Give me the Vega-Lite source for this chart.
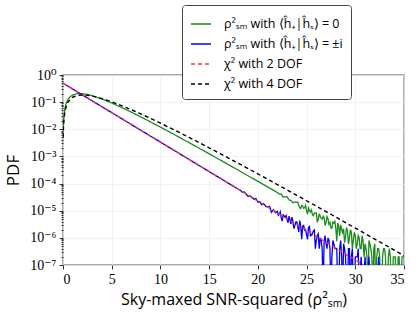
{
  "$schema": "https://vega.github.io/schema/vega-lite/v6.json",
  "width": 341,
  "height": 190,
  "autosize": "none",
  "padding": {"left": 63, "top": 75, "right": 12, "bottom": 54},
  "background": "white",
  "data": {"values": [
    {"s":"g","x":0.03,"y":0.00982},{"s":"g","x":0.05,"y":0.01618},{"s":"g","x":0.1,"y":0.03138},{"s":"g","x":0.2,"y":0.05914},{"s":"g","x":0.3,"y":0.08357},{"s":"g","x":0.5,"y":0.12364},{"s":"g","x":0.75,"y":0.1599},{"s":"g","x":1,"y":0.18394},{"s":"g","x":1.5,"y":0.20574},{"s":"g","x":2,"y":0.20504},{"s":"g","x":2.5,"y":0.19198},{"s":"g","x":3,"y":0.17286},{"s":"g","x":4,"y":0.13058},{"s":"g","x":5,"y":0.09305},{"s":"g","x":6,"y":0.06401},{"s":"g","x":7,"y":0.04302},{"s":"g","x":8,"y":0.02844},{"s":"g","x":9,"y":0.018576},{"s":"g","x":10,"y":0.012021},{"s":"g","x":11,"y":0.0077235},{"s":"g","x":12,"y":0.004933},{"s":"g","x":13,"y":0.0031346},{"s":"g","x":14,"y":0.0019851},{"s":"g","x":15,"y":0.0012527},{"s":"g","x":16,"y":0.00078827},{"s":"g","x":17,"y":0.0004948},{"s":"g","x":18,"y":0.00030989},{"s":"g","x":19,"y":0.0001937},{"s":"g","x":20,"y":0.00012087},{"s":"g","x":21,"y":7.5311e-5},{"s":"g","x":22,"y":4.6861e-5},
    {"s":"g","x":22.2,"y":4.114e-5},{"s":"g","x":22.4,"y":4.122e-5},{"s":"g","x":22.6,"y":3.174e-5},{"s":"g","x":22.8,"y":3.248e-5},{"s":"g","x":23,"y":3.276e-5},{"s":"g","x":23.2,"y":2.485e-5},{"s":"g","x":23.4,"y":2.405e-5},{"s":"g","x":23.6,"y":1.954e-5},{"s":"g","x":23.8,"y":2.106e-5},{"s":"g","x":24,"y":2.035e-5},{"s":"g","x":24.2,"y":1.57e-5},{"s":"g","x":24.4,"y":1.215e-5},{"s":"g","x":24.6,"y":1.488e-5},{"s":"g","x":24.8,"y":1.28e-5},{"s":"g","x":25,"y":9.85e-6},{"s":"g","x":25.2,"y":1.261e-5},{"s":"g","x":25.4,"y":8.99e-6},{"s":"g","x":25.6,"y":7.12e-6},{"s":"g","x":25.8,"y":8.27e-6},{"s":"g","x":26,"y":8.24e-6},{"s":"g","x":26.2,"y":4.74e-6},{"s":"g","x":26.4,"y":6.17e-6},{"s":"g","x":26.6,"y":4.905e-6},{"s":"g","x":26.8,"y":5.61e-6},{"s":"g","x":27,"y":3.556e-6},{"s":"g","x":27.2,"y":5.06e-6},{"s":"g","x":27.4,"y":3.635e-6},{"s":"g","x":27.6,"y":2.262e-6},{"s":"g","x":27.8,"y":3.469e-6},{"s":"g","x":28,"y":2.222e-6},{"s":"g","x":28.2,"y":3.53e-6},{"s":"g","x":28.4,"y":1.201e-6},{"s":"g","x":28.6,"y":2.122e-6},{"s":"g","x":28.8,"y":2.175e-6},{"s":"g","x":29,"y":1.127e-6},{"s":"g","x":29.2,"y":1.8e-6},{"s":"g","x":29.4,"y":1.0e-6},{"s":"g","x":29.6,"y":1.6e-6},{"s":"g","x":29.8,"y":8e-7},{"s":"g","x":30,"y":1.2e-6},{"s":"g","x":30.2,"y":6e-7},{"s":"g","x":30.4,"y":1.0e-6},{"s":"g","x":30.6,"y":4e-7},{"s":"g","x":30.8,"y":8e-7},{"s":"g","x":31,"y":6e-7},{"s":"g","x":31.2,"y":2e-7},{"s":"g","x":31.4,"y":8e-7},{"s":"g","x":31.6,"y":4e-7},{"s":"g","x":31.8,"y":1e-8},{"s":"g","x":32,"y":6e-7},{"s":"g","x":32.2,"y":2e-7},{"s":"g","x":32.4,"y":4e-7},{"s":"g","x":32.6,"y":1e-8},{"s":"g","x":32.8,"y":2e-7},{"s":"g","x":33,"y":4e-7},{"s":"g","x":33.2,"y":1e-8},{"s":"g","x":33.4,"y":2e-7},{"s":"g","x":33.6,"y":2e-7},{"s":"g","x":33.8,"y":1e-8},{"s":"g","x":34,"y":2e-7},{"s":"g","x":34.2,"y":1e-8},{"s":"g","x":34.4,"y":2e-7},{"s":"g","x":34.6,"y":1e-8},{"s":"g","x":34.8,"y":2e-7},{"s":"g","x":35,"y":2e-7},
    {"s":"g","x":24.1,"y":2.078e-5},{"s":"g","x":24.3,"y":1.284e-5},{"s":"g","x":24.5,"y":1.56e-5},{"s":"g","x":24.7,"y":1.227e-5},{"s":"g","x":24.9,"y":1.578e-5},{"s":"g","x":25.1,"y":7.44e-6},{"s":"g","x":25.3,"y":1.01e-5},{"s":"g","x":25.5,"y":1.068e-5},{"s":"g","x":25.7,"y":6.61e-6},{"s":"g","x":25.9,"y":8.13e-6},{"s":"g","x":26.1,"y":3.76e-6},{"s":"g","x":26.3,"y":7.82e-6},{"s":"g","x":26.5,"y":5.33e-6},{"s":"g","x":26.7,"y":6.18e-6},{"s":"g","x":26.9,"y":2.87e-6},{"s":"g","x":27.1,"y":6.07e-6},{"s":"g","x":27.3,"y":3.15e-6},{"s":"g","x":27.5,"y":2.3e-6},{"s":"g","x":27.7,"y":3.79e-6},{"s":"g","x":27.9,"y":4.07e-6},{"s":"g","x":28.1,"y":7.5e-7},{"s":"g","x":28.3,"y":2.57e-6},{"s":"g","x":28.5,"y":3.01e-6},{"s":"g","x":28.7,"y":1.42e-6},{"s":"g","x":28.9,"y":6.6e-7},
    {"s":"g","x":29.1,"y":2.4e-6},{"s":"g","x":29.3,"y":6e-7},{"s":"g","x":29.5,"y":2.0e-6},{"s":"g","x":29.7,"y":4e-7},{"s":"g","x":29.9,"y":1.6e-6},{"s":"g","x":30.1,"y":4e-7},{"s":"g","x":30.3,"y":1.2e-6},{"s":"g","x":30.5,"y":4e-7},{"s":"g","x":30.7,"y":1.2e-6},{"s":"g","x":30.9,"y":2e-7},
    {"s":"g","x":31.1,"y":4e-7},{"s":"g","x":31.3,"y":1e-8},{"s":"g","x":31.5,"y":6e-7},{"s":"g","x":31.7,"y":2e-7},{"s":"g","x":31.9,"y":4e-7},{"s":"g","x":32.1,"y":1e-8},{"s":"g","x":32.3,"y":4e-7},{"s":"g","x":32.5,"y":2e-7},{"s":"g","x":32.7,"y":1e-8},{"s":"g","x":32.9,"y":4e-7},{"s":"g","x":33.1,"y":2e-7},{"s":"g","x":33.3,"y":1e-8},{"s":"g","x":33.5,"y":4e-7},{"s":"g","x":33.7,"y":1e-8},{"s":"g","x":33.9,"y":2e-7},{"s":"g","x":34.1,"y":2e-7},{"s":"g","x":34.3,"y":1e-8},{"s":"g","x":34.5,"y":2e-7},{"s":"g","x":34.7,"y":1e-8},{"s":"g","x":34.9,"y":2e-7},
    {"s":"b","x":0,"y":0.5},{"s":"b","x":1,"y":0.30327},{"s":"b","x":2,"y":0.18394},{"s":"b","x":3,"y":0.11157},{"s":"b","x":4,"y":0.067668},{"s":"b","x":5,"y":0.041042},{"s":"b","x":6,"y":0.024894},{"s":"b","x":7,"y":0.015099},{"s":"b","x":8,"y":0.0091578},{"s":"b","x":9,"y":0.0055545},{"s":"b","x":10,"y":0.003369},{"s":"b","x":11,"y":0.0020434},{"s":"b","x":12,"y":0.0012394},{"s":"b","x":13,"y":0.00075172},{"s":"b","x":14,"y":0.00045594},{"s":"b","x":15,"y":0.00027654},{"s":"b","x":16,"y":0.00016773},{"s":"b","x":17,"y":0.00010173},{"s":"b","x":18,"y":6.1706e-5},
    {"s":"b","x":18.2,"y":5.684e-5},{"s":"b","x":18.4,"y":4.8e-5},{"s":"b","x":18.6,"y":4.905e-5},{"s":"b","x":18.8,"y":4.078e-5},{"s":"b","x":19,"y":3.361e-5},{"s":"b","x":19.2,"y":3.542e-5},{"s":"b","x":19.4,"y":3.089e-5},{"s":"b","x":19.6,"y":2.656e-5},{"s":"b","x":19.8,"y":2.865e-5},{"s":"b","x":20,"y":2.077e-5},{"s":"b","x":20.2,"y":2.136e-5},{"s":"b","x":20.4,"y":1.647e-5},{"s":"b","x":20.6,"y":1.828e-5},{"s":"b","x":20.8,"y":1.47e-5},{"s":"b","x":21,"y":1.3768e-5},{"s":"b","x":21.2,"y":1.451e-5},{"s":"b","x":21.4,"y":8.72e-6},{"s":"b","x":21.6,"y":1.091e-5},{"s":"b","x":21.8,"y":8.42e-6},{"s":"b","x":22,"y":9.52e-6},{"s":"b","x":22.2,"y":7.435e-6},{"s":"b","x":22.4,"y":5.43e-6},{"s":"b","x":22.6,"y":6.966e-6},{"s":"b","x":22.8,"y":5.81e-6},{"s":"b","x":23,"y":4.66e-6},{"s":"b","x":23.2,"y":6.31e-6},{"s":"b","x":23.4,"y":3.235e-6},{"s":"b","x":23.6,"y":4.01e-6},{"s":"b","x":23.8,"y":2.818e-6},{"s":"b","x":24,"y":3.855e-6},{"s":"b","x":24.2,"y":1.662e-6},{"s":"b","x":24.4,"y":2.799e-6},{"s":"b","x":24.6,"y":2.681e-6},{"s":"b","x":24.8,"y":1.931e-6},{"s":"b","x":25,"y":1.313e-6},{"s":"b","x":25.2,"y":2.382e-6},{"s":"b","x":25.4,"y":1.194e-6},{"s":"b","x":25.6,"y":1.433e-6},{"s":"b","x":25.8,"y":1.948e-6},{"s":"b","x":26,"y":8e-7},{"s":"b","x":26.2,"y":1.4e-6},{"s":"b","x":26.4,"y":1.0e-6},{"s":"b","x":26.6,"y":4e-7},{"s":"b","x":26.8,"y":8e-7},{"s":"b","x":27,"y":6e-7},{"s":"b","x":27.2,"y":1.0e-6},{"s":"b","x":27.4,"y":4e-7},{"s":"b","x":27.6,"y":2e-7},{"s":"b","x":27.8,"y":6e-7},{"s":"b","x":28,"y":4e-7},{"s":"b","x":28.2,"y":1e-8},{"s":"b","x":28.4,"y":4e-7},{"s":"b","x":28.6,"y":2e-7},{"s":"b","x":28.8,"y":6e-7},{"s":"b","x":29,"y":2e-7},{"s":"b","x":29.2,"y":1e-8},{"s":"b","x":29.4,"y":4e-7},{"s":"b","x":29.6,"y":2e-7},{"s":"b","x":29.8,"y":1e-8},{"s":"b","x":30,"y":2e-7},{"s":"b","x":30.2,"y":2e-7},{"s":"b","x":30.4,"y":1e-8},{"s":"b","x":30.6,"y":2e-7},{"s":"b","x":30.8,"y":1e-8},{"s":"b","x":31,"y":2e-7},{"s":"b","x":31.2,"y":1e-8},{"s":"b","x":31.4,"y":2e-7},{"s":"b","x":31.6,"y":1e-8},{"s":"b","x":32.2,"y":1e-8},{"s":"b","x":32.4,"y":2e-7},{"s":"b","x":32.6,"y":1e-8},{"s":"b","x":35,"y":1e-8},
    {"s":"b","x":22.1,"y":6.72e-6},{"s":"b","x":22.3,"y":9.17e-6},{"s":"b","x":22.5,"y":4.16e-6},{"s":"b","x":22.7,"y":6.47e-6},{"s":"b","x":22.9,"y":6.71e-6},{"s":"b","x":23.1,"y":3.6e-6},{"s":"b","x":23.3,"y":4.61e-6},{"s":"b","x":23.5,"y":5.78e-6},{"s":"b","x":23.7,"y":2.2e-6},{"s":"b","x":23.9,"y":3.89e-6},{"s":"b","x":24.1,"y":2.5e-6},{"s":"b","x":24.3,"y":4.31e-6},{"s":"b","x":24.5,"y":9.0e-7},{"s":"b","x":24.7,"y":2.88e-6},{"s":"b","x":24.9,"y":2.04e-6},{"s":"b","x":25.1,"y":8.8e-7},{"s":"b","x":25.3,"y":2.6e-6},{"s":"b","x":25.5,"y":1.23e-6},{"s":"b","x":25.7,"y":1.8e-6},{"s":"b","x":25.9,"y":4e-7},{"s":"b","x":26.1,"y":1.2e-6},{"s":"b","x":26.3,"y":4e-7},{"s":"b","x":26.5,"y":8e-7},{"s":"b","x":26.7,"y":1e-8},{"s":"b","x":26.9,"y":1.2e-6},{"s":"b","x":27.1,"y":4e-7},{"s":"b","x":27.3,"y":8e-7},{"s":"b","x":27.5,"y":1e-8},{"s":"b","x":27.7,"y":8e-7},{"s":"b","x":27.9,"y":4e-7},{"s":"b","x":28.1,"y":4e-7},{"s":"b","x":28.3,"y":1e-8},{"s":"b","x":28.5,"y":8e-7},{"s":"b","x":28.7,"y":1e-8},{"s":"b","x":28.9,"y":4e-7},{"s":"b","x":29.1,"y":1e-8},{"s":"b","x":29.3,"y":4e-7},{"s":"b","x":29.5,"y":1e-8},{"s":"b","x":29.7,"y":4e-7},{"s":"b","x":29.9,"y":1e-8},{"s":"b","x":30.3,"y":4e-7},
    {"s":"r","x":0,"y":0.5},{"s":"r","x":1,"y":0.30327},{"s":"r","x":2,"y":0.18394},{"s":"r","x":3,"y":0.11157},{"s":"r","x":4,"y":0.067668},{"s":"r","x":5,"y":0.041042},{"s":"r","x":6,"y":0.024894},{"s":"r","x":7,"y":0.015099},{"s":"r","x":8,"y":0.0091578},{"s":"r","x":9,"y":0.0055545},{"s":"r","x":10,"y":0.003369},{"s":"r","x":11,"y":0.0020434},{"s":"r","x":12,"y":0.0012394},{"s":"r","x":13,"y":0.00075172},{"s":"r","x":14,"y":0.00045594},{"s":"r","x":15,"y":0.00027654},{"s":"r","x":16,"y":0.00016773},{"s":"r","x":17,"y":0.00010173},{"s":"r","x":18,"y":6.1706e-5},{"s":"r","x":19,"y":3.7426e-5},{"s":"r","x":20,"y":2.27e-5},{"s":"r","x":21,"y":1.3768e-5},{"s":"r","x":22,"y":8.3509e-6},{"s":"r","x":23,"y":5.065e-6},{"s":"r","x":24,"y":3.0721e-6},{"s":"r","x":25,"y":1.8633e-6},{"s":"r","x":26,"y":1.1302e-6},{"s":"r","x":27,"y":6.8549e-7},{"s":"r","x":28,"y":4.1576e-7},{"s":"r","x":29,"y":2.5218e-7},{"s":"r","x":30,"y":1.5295e-7},{"s":"r","x":31,"y":9.2768e-8},
    {"s":"k","x":0.02,"y":0.00495},{"s":"k","x":0.05,"y":0.01219},{"s":"k","x":0.1,"y":0.02378},{"s":"k","x":0.2,"y":0.04524},{"s":"k","x":0.3,"y":0.06455},{"s":"k","x":0.5,"y":0.09735},{"s":"k","x":0.75,"y":0.12887},{"s":"k","x":1,"y":0.15163},{"s":"k","x":1.5,"y":0.17714},{"s":"k","x":2,"y":0.18394},{"s":"k","x":2.5,"y":0.17906},{"s":"k","x":3,"y":0.16735},{"s":"k","x":4,"y":0.13534},{"s":"k","x":5,"y":0.10261},{"s":"k","x":6,"y":0.07468},{"s":"k","x":7,"y":0.05285},{"s":"k","x":8,"y":0.03663},{"s":"k","x":9,"y":0.025},{"s":"k","x":10,"y":0.016845},{"s":"k","x":11,"y":0.011239},{"s":"k","x":12,"y":0.0074363},{"s":"k","x":13,"y":0.0048862},{"s":"k","x":14,"y":0.0031916},{"s":"k","x":15,"y":0.0020741},{"s":"k","x":16,"y":0.0013418},{"s":"k","x":17,"y":0.00086474},{"s":"k","x":18,"y":0.00055535},{"s":"k","x":19,"y":0.00035555},{"s":"k","x":20,"y":0.000227},{"s":"k","x":21,"y":0.00014456},{"s":"k","x":22,"y":9.1858e-5},{"s":"k","x":23,"y":5.8249e-5},{"s":"k","x":24,"y":3.6865e-5},{"s":"k","x":25,"y":2.3292e-5},{"s":"k","x":26,"y":1.4692e-5},{"s":"k","x":27,"y":9.254e-6},{"s":"k","x":28,"y":5.8207e-6},{"s":"k","x":29,"y":3.6565e-6},{"s":"k","x":30,"y":2.2943e-6},{"s":"k","x":31,"y":1.4379e-6},{"s":"k","x":32,"y":9.003e-7},{"s":"k","x":33,"y":5.6311e-7},{"s":"k","x":34,"y":3.5189e-7},{"s":"k","x":35,"y":2.1971e-7}
  ]},
  "encoding": {
    "x": {"field": "x", "type": "quantitative",
      "scale": {"domain": [0, 35], "nice": false, "zero": false},
      "axis": {"values": [0,5,10,15,20,25,30,35], "title": "Sky-maxed SNR-squared (ρ²ₛₘ)", "format": "d"}},
    "y": {"field": "y", "type": "quantitative",
      "scale": {"type": "log", "domain": [1e-7, 1], "nice": false},
      "axis": {"title": "PDF",
        "values": [1e-7,2e-7,3e-7,4e-7,5e-7,6e-7,7e-7,8e-7,9e-7,1e-6,2e-6,3e-6,4e-6,5e-6,6e-6,7e-6,8e-6,9e-6,1e-5,2e-5,3e-5,4e-5,5e-5,6e-5,7e-5,8e-5,9e-5,1e-4,2e-4,3e-4,4e-4,5e-4,6e-4,7e-4,8e-4,9e-4,1e-3,2e-3,3e-3,4e-3,5e-3,6e-3,7e-3,8e-3,9e-3,1e-2,2e-2,3e-2,4e-2,5e-2,6e-2,7e-2,8e-2,9e-2,1e-1,2e-1,3e-1,4e-1,5e-1,6e-1,7e-1,8e-1,9e-1,1],
        "labelOverlap": false,
        "labelExpr": "abs(log(datum.value)/LN10 - round(log(datum.value)/LN10)) < 0.01 ? '10' + ['⁰','⁻¹','⁻²','⁻³','⁻⁴','⁻⁵','⁻⁶','⁻⁷'][-round(log(datum.value)/LN10)] : ''",
        "tickSize": {"condition": {"test": "abs(log(datum.value)/LN10 - round(log(datum.value)/LN10)) < 0.01", "value": 4}, "value": 2},
        "gridOpacity": {"condition": {"test": "abs(log(datum.value)/LN10 - round(log(datum.value)/LN10)) < 0.01", "value": 1}, "value": 0}
      }},
    "color": {"field": "s", "type": "nominal", "title": null,
      "scale": {"domain": ["g","b","r","k"], "range": ["#1a8c1a","#0000ff","#ff3333","#000000"]},
      "legend": {"labelExpr": "datum.label == 'g' ? 'ρ²ₛₘ with ⟨ĥ₊|ĥₓ⟩ = 0' : datum.label == 'b' ? 'ρ²ₛₘ with ⟨ĥ₊|ĥₓ⟩ = ±i' : datum.label == 'r' ? 'χ² with 2 DOF' : 'χ² with 4 DOF'"}},
    "strokeDash": {"field": "s", "type": "nominal", "title": null,
      "scale": {"domain": ["g","b","r","k"], "range": [[1,0],[1,0],[4,3],[4,3]]},
      "legend": {"labelExpr": "datum.label == 'g' ? 'ρ²ₛₘ with ⟨ĥ₊|ĥₓ⟩ = 0' : datum.label == 'b' ? 'ρ²ₛₘ with ⟨ĥ₊|ĥₓ⟩ = ±i' : datum.label == 'r' ? 'χ² with 2 DOF' : 'χ² with 4 DOF'"}}
  },
  "layer": [
    {"transform": [{"filter": "datum.s == 'g'"}], "mark": {"type": "line", "clip": true, "strokeWidth": 1.3}},
    {"transform": [{"filter": "datum.s == 'b'"}], "mark": {"type": "line", "clip": true, "strokeWidth": 1.3}},
    {"transform": [{"filter": "datum.s == 'r'"}], "mark": {"type": "line", "clip": true, "strokeWidth": 1.4}},
    {"transform": [{"filter": "datum.s == 'k'"}], "mark": {"type": "line", "clip": true, "strokeWidth": 1.4}}
  ],
  "config": {
    "view": {"stroke": "#555555", "strokeWidth": 1.3},
    "axis": {"domain": false, "grid": true, "gridColor": "#eeeeee", "gridWidth": 0.8,
      "tickColor": "#333333", "tickSize": 4, "tickWidth": 1,
      "labelFont": "'Liberation Serif', 'DejaVu Serif', serif", "labelFontSize": 14, "labelColor": "#000000", "labelPadding": 3,
      "titleFont": "Open Sans", "titleFontWeight": "normal", "titleColor": "#000000"},
    "axisX": {"titleFontSize": 16, "titlePadding": 5},
    "axisY": {"titleFontSize": 17, "titlePadding": 7},
    "legend": {"orient": "none", "legendX": 119, "legendY": -70, "padding": 8,
      "strokeColor": "#444444", "fillColor": "#ffffff", "cornerRadius": 3,
      "symbolType": "stroke", "symbolSize": 400, "symbolStrokeWidth": 1.6,
      "labelFont": "Open Sans", "labelFontSize": 12.5, "labelColor": "#000000",
      "rowPadding": 2, "labelOffset": 12, "labelLimit": 300}
  }
}
